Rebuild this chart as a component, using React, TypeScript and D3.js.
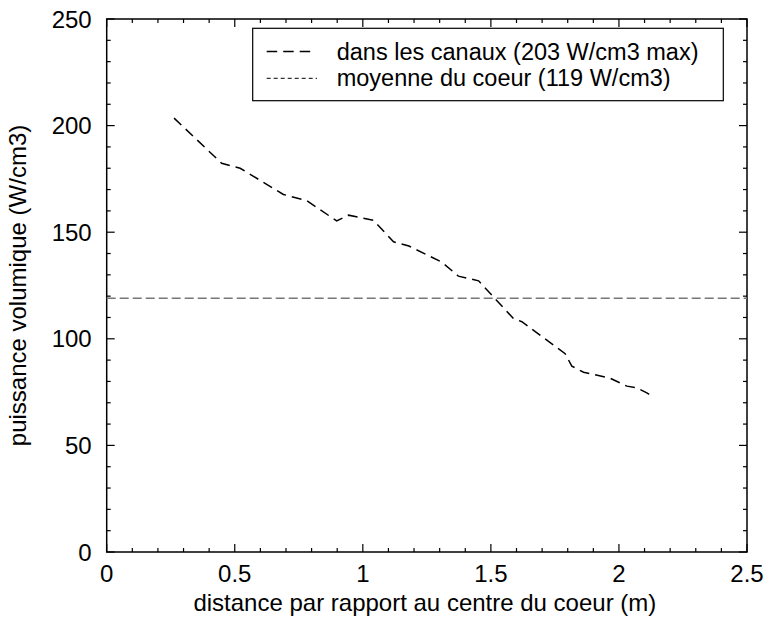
import React from "react";
import * as d3 from "d3";

const distance = [0.263, 0.449, 0.521, 0.69, 0.781, 0.898, 0.944, 1.041, 1.12, 1.18, 1.309, 1.373, 1.452, 1.588, 1.621, 1.79, 1.816, 1.862, 1.966, 2.031, 2.07, 2.109, 2.129];
const puissance = [203.5, 182.3, 180, 167.7, 164.8, 155.3, 158, 155.6, 145.5, 143.5, 135.9, 129.4, 127.2, 109.5, 108, 93, 87.2, 84.3, 81.5, 77.8, 77, 74.6, 73.2];
const moyenne = 119;
const xTicks = [0, 0.5, 1, 1.5, 2, 2.5];
const yTicks = [0, 50, 100, 150, 200, 250];
const legendLabels = ["dans les canaux (203 W/cm3 max)", "moyenne du coeur (119 W/cm3)"];
const xTitle = "distance par rapport au centre du coeur (m)";
const yTitle = "puissance volumique (W/cm3)";

export default function App() {
  const W = 766, H = 619;
  const left = 106.7, right = 747, top = 19, bottom = 552;
  const x = d3.scaleLinear().domain([0, 2.5]).range([left, right]);
  const y = d3.scaleLinear().domain([0, 250]).range([bottom, top]);
  const line = d3.line<number>().x((_, i) => x(distance[i])).y((d) => y(d));
  const xMinor = d3.range(0, 2.5001, 0.1);
  const yMinor = d3.range(0, 250.001, 10);
  const font = "Liberation Sans, Arial, Helvetica, sans-serif";
  const fs = 24;
  const isMajorX = (v: number) => Math.abs(v * 2 - Math.round(v * 2)) < 1e-6;
  const isMajorY = (v: number) => Math.abs(v / 50 - Math.round(v / 50)) < 1e-6;
  return (
    <svg width={W} height={H} style={{ position: "absolute", left: 0, top: 0 }} fontFamily={font}>
      <rect width={W} height={H} fill="white" />
      {xMinor.map((v, i) => {
        const L = isMajorX(v) ? 8 : 4;
        return (
          <g key={"xt" + i} stroke="#000" strokeWidth={1.2}>
            <line x1={x(v)} x2={x(v)} y1={bottom} y2={bottom - L} />
            <line x1={x(v)} x2={x(v)} y1={top} y2={top + L} />
          </g>
        );
      })}
      {yMinor.map((v, i) => {
        const L = isMajorY(v) ? 8 : 4;
        return (
          <g key={"yt" + i} stroke="#000" strokeWidth={1.2}>
            <line x1={left} x2={left + L} y1={y(v)} y2={y(v)} />
            <line x1={right} x2={right - L} y1={y(v)} y2={y(v)} />
          </g>
        );
      })}
      <rect x={left} y={top} width={right - left} height={bottom - top} fill="none" stroke="#000" strokeWidth={1.5} />
      {xTicks.map((v) => (
        <text key={"xl" + v} x={x(v)} y={582} fontSize={fs} textAnchor="middle">{String(v)}</text>
      ))}
      {yTicks.map((v) => (
        <text key={"yl" + v} x={left - 15} y={y(v) + 8.5} fontSize={fs} textAnchor="end">{String(v)}</text>
      ))}
      <text x={(left + right) / 2 - 2} y={611} fontSize={fs} textAnchor="middle">{xTitle}</text>
      <text transform={`translate(26,${(top + bottom) / 2}) rotate(-90)`} fontSize={fs} textAnchor="middle">{yTitle}</text>
      <line x1={left} x2={right} y1={y(moyenne)} y2={y(moyenne)} stroke="#777" strokeWidth={1.6} strokeDasharray="9 4" />
      <path d={line(puissance) || ""} fill="none" stroke="#000" strokeWidth={1.5} strokeDasharray="10 6" />
      <rect x={252.7} y={28.3} width={470.6} height={72.4} fill="white" stroke="#000" strokeWidth={1.2} />
      <line x1={266.7} x2={315} y1={51.5} y2={51.5} stroke="#000" strokeWidth={1.5} strokeDasharray="10.5 6" />
      <text x={336.7} y={59.5} fontSize={23.5}>{legendLabels[0]}</text>
      <line x1={266.7} x2={317} y1={78.3} y2={78.3} stroke="#000" strokeWidth={1} strokeDasharray="4 3" />
      <text x={336.7} y={86} fontSize={23.5}>{legendLabels[1]}</text>
    </svg>
  );
}
